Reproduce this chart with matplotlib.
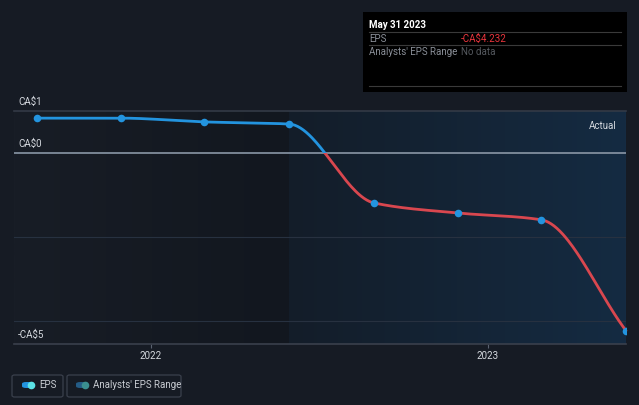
import datetime as dt

import numpy as np
import matplotlib as mpl
mpl.use('agg')
import matplotlib.pyplot as plt
import matplotlib.dates as mdates
import matplotlib.transforms as mtransforms
from matplotlib.patches import Rectangle, FancyBboxPatch

plt.rcParams['font.family'] = ['Roboto', 'DejaVu Sans']

# EPS history (CA$), quarterly
dates = [dt.date(2021, 8, 31), dt.date(2021, 11, 30), dt.date(2022, 2, 28),
         dt.date(2022, 5, 31), dt.date(2022, 8, 31), dt.date(2022, 11, 30),
         dt.date(2023, 2, 28), dt.date(2023, 5, 31)]
eps = [0.83, 0.83, 0.74, 0.69, -1.19, -1.43, -1.59, -4.232]

ytick_vals = [1, 0, -4.55]
ytick_labels = ['CA\\$1', 'CA\\$0', '-CA\\$5']
xtick_years = [2022, 2023]

W, H = 639, 405
BG = '#161b24'
BLUE = '#2394df'
RED = '#d9474f'
FS = 7


def fx(px):
    return px / W


def fy(py):
    return 1 - py / H


fig = plt.figure(figsize=(W / 100, H / 100), dpi=100, facecolor=BG)
ax = fig.add_axes([fx(14), fy(344), fx(626) - fx(14), fy(111) - fy(344)])
ax.set_facecolor(BG)
for s in ax.spines.values():
    s.set_visible(False)

x = mdates.date2num(dates)
y = np.array(eps)
x0 = mdates.date2num(dt.date(2021, 8, 6))
x1 = mdates.date2num(dt.date(2023, 5, 31))
ylo, yhi = -4.55, 1.0
ax.set_xlim(x0, x1)
ax.set_ylim(ylo, yhi)

# background shading: past (dark) and recent (blue gradient)
xsplit = x[3]
grad = np.linspace(0, 1, 256).reshape(1, -1)
cm_left = mpl.colors.LinearSegmentedColormap.from_list('l', ['#181d26', '#12171f'])
cm_right = mpl.colors.LinearSegmentedColormap.from_list('r', ['#131d29', '#152b42'])
ax.imshow(grad, extent=[x0, xsplit, ylo, yhi], aspect='auto', cmap=cm_left, zorder=0)
ax.imshow(grad, extent=[xsplit, x1, ylo, yhi], aspect='auto', cmap=cm_right, zorder=0)

# grid lines
ax.axhline(1, color='#333a46', lw=1.2, zorder=1, clip_on=False)
for g in [-2, -4]:
    ax.axhline(g, color='#273140', lw=0.8, zorder=1)
ax.axhline(0, color='#8a97a6', lw=1.2, zorder=2)
ax.axhline(ylo, color='#3a404c', lw=1.2, zorder=2, clip_on=False)

# smooth monotone curve through the points
d = np.diff(y) / np.diff(x)
m = np.zeros_like(y)
m[0], m[-1] = d[0], d[-1]
for i in range(1, len(y) - 1):
    if d[i - 1] * d[i] > 0:
        m[i] = 2 / (1 / d[i - 1] + 1 / d[i])
xs, ys = [], []
for i in range(len(y) - 1):
    h = x[i + 1] - x[i]
    t = np.linspace(0, 1, 60)
    h00 = 2 * t**3 - 3 * t**2 + 1
    h10 = t**3 - 2 * t**2 + t
    h01 = -2 * t**3 + 3 * t**2
    h11 = t**3 - t**2
    xs.append(x[i] + t * h)
    ys.append(h00 * y[i] + h10 * h * m[i] + h01 * y[i + 1] + h11 * h * m[i + 1])
xs = np.concatenate(xs)
ys = np.concatenate(ys)

pos_line, = ax.plot(xs, ys, color=BLUE, lw=2, zorder=3, solid_capstyle='round')
neg_line, = ax.plot(xs, ys, color=RED, lw=2, zorder=3, solid_capstyle='round')
pos_clip = Rectangle((x0 - 100, 0), x1 - x0 + 200, 10, transform=ax.transData)
neg_clip = Rectangle((x0 - 100, -10), x1 - x0 + 200, 10, transform=ax.transData)
pos_line.set_clip_path(pos_clip)
neg_line.set_clip_path(neg_clip)
ax.scatter(x, y, s=30, color=BLUE, zorder=4, linewidths=0)

# y labels (above grid lines)
lab_tr = ax.get_yaxis_transform() + mtransforms.ScaledTranslation(0, 4 / 100, fig.dpi_scale_trans)
for v, lab in zip(ytick_vals, ytick_labels):
    ax.text(4 / (626 - 14), v, lab, transform=lab_tr,
            color='#d5d9df', fontsize=FS, va='bottom', ha='left')

ax.set_yticks([])
ax.set_xticks([mdates.date2num(dt.date(yr, 1, 1)) for yr in xtick_years])
ax.set_xticklabels([str(yr) for yr in xtick_years])
ax.tick_params(axis='x', colors='#5a6270', labelcolor='#d5d9df', labelsize=FS,
               length=3, width=0.8, pad=2)

ax.text(0.985, 0.955, 'Actual', transform=ax.transAxes, color='#d5d9df',
        fontsize=FS, ha='right', va='top')

# tooltip box
fig.add_artist(Rectangle((fx(363), fy(92)), fx(627) - fx(363), fy(12) - fy(92),
                         transform=fig.transFigure, facecolor='#000000', edgecolor='none'))
fig.text(fx(369), fy(25), 'May 31 2023', color='#ffffff', fontsize=FS,
         fontweight='bold', va='center')
for ly in [32, 45, 86]:
    fig.add_artist(plt.Line2D([fx(369), fx(621)], [fy(ly), fy(ly)], color='#3a3a3a', lw=0.8))
fig.text(fx(369), fy(38.5), 'EPS', color='#8a8f98', fontsize=FS, va='center')
fig.text(fx(461), fy(38.5), '-CA\\$4.232', color='#e8343c', fontsize=FS, va='center')
fig.text(fx(369), fy(52), "Analysts' EPS Range", color='#8a8f98', fontsize=FS, va='center')
fig.text(fx(461), fy(52), 'No data', color='#55595f', fontsize=FS, va='center')

# legend
for bx0, bx1 in [(12, 63), (67, 181)]:
    fig.add_artist(FancyBboxPatch((fx(bx0), fy(397)), fx(bx1) - fx(bx0), fy(375) - fy(397),
                                  boxstyle='round,pad=0,rounding_size=0.004',
                                  transform=fig.transFigure, facecolor='none',
                                  edgecolor='#3a404c', lw=0.9))
for ix, pill, dot, label in [(22, BLUE, '#5be3e6', 'EPS'),
                             (76, '#245c86', '#3b8f90', "Analysts' EPS Range")]:
    fig.add_artist(FancyBboxPatch((fx(ix), fy(388)), fx(12), fy(382) - fy(388),
                                  boxstyle='round,pad=0,rounding_size=0.007',
                                  transform=fig.transFigure, facecolor=pill,
                                  edgecolor='none', mutation_aspect=H / W))
    fig.add_artist(plt.Line2D([fx(ix + 9)], [fy(385)], marker='o', ms=5.5,
                              color=dot, markeredgewidth=0))
    fig.text(fx(ix + 17), fy(385.5), label, color='#c8ccd2', fontsize=FS, va='center')

fig.savefig('out.png', dpi=100, facecolor=BG)
